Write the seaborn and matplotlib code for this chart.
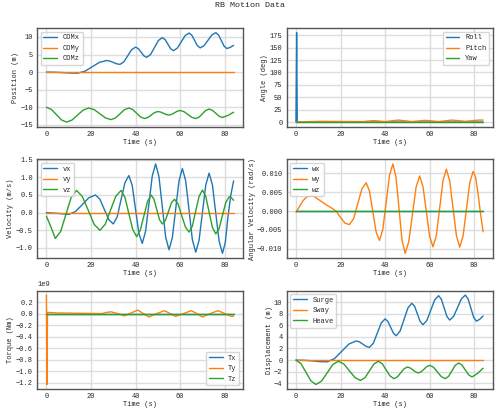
import numpy as np
import pandas as pd
import matplotlib
matplotlib.use("Agg")
import matplotlib.pyplot as plt
import seaborn as sns

# ---- data ----
surge_t = [0,3.5,7,10.5,14,17.25,20.5,23.75,27,28.5,30,31.5,33,34.75,36.5,38.25,40,41.25,42.5,43.75,45,
           46.75,48.5,50.25,52,53.25,54.5,55.75,57,58.75,60.5,62.25,64,65.25,66.5,67.75,69,70.75,72.5,74.25,
           76,77.25,78.5,79.75,81,82.5,84]
surge_v = [0,-0.03,-0.12,-0.25,-0.3,0.24,1.5,2.76,3.3,3.14,2.75,2.36,2.2,2.92,4.65,6.38,7.1,6.67,5.65,4.63,4.2,
           5.02,7.0,8.98,9.8,9.26,7.95,6.64,6.1,6.83,8.6,10.37,11.1,10.49,9.0,7.51,6.9,7.53,9.05,10.57,
           11.2,10.54,8.95,7.36,6.7,7.05,7.6]
heave_t = [0,2.25,4.5,6.75,9,11.5,14,16.5,19,21.5,24,26.5,29,31,33,35,37,38.75,40.5,42.25,44,45.5,47,48.5,50,
           51.25,52.5,53.75,55,56.25,57.5,58.75,60,61.75,63.5,65.25,67,68.5,70,71.5,73,74.5,76,77.5,79,81.5,84]
heave_v = [0,-0.61,-2.1,-3.59,-4.2,-3.62,-2.2,-0.78,-0.2,-0.68,-1.85,-3.02,-3.5,-3.02,-1.85,-0.68,-0.2,-0.65,-1.7,-2.75,-3.2,-2.9,-2.2,-1.5,-1.2,
           -1.35,-1.7,-2.05,-2.2,-2.0,-1.55,-1.1,-0.9,-1.24,-2.05,-2.86,-3.2,-2.8,-1.85,-0.9,-0.5,-0.86,-1.7,-2.54,-2.9,-2.3,-1.4]
comz_offset = -10
vx_t = [0,5,10,13,16,19,22,24,26,28,30,31.75,33.5,35.25,37,38.5,40,41.5,43,44.5,46,47.5,49,50.5,52,53.5,55,
        56.5,58,59.5,61,62.5,64,65.5,67,68.5,70,71.5,73,74.5,76,77.5,79,80.25,81.5,82.75,84]
vx_v = [0,-0.02,-0.05,0.03,0.22,0.42,0.5,0.38,0.09,-0.2,-0.32,-0.12,0.37,0.85,1.05,0.77,0.09,-0.59,-0.87,-0.53,0.25,1.04,1.38,1.02,0.17,-0.69,-1.05,
        -0.71,0.1,0.9,1.25,0.9,0.07,-0.77,-1.12,-0.78,0,0.78,1.12,0.78,-0.02,-0.81,-1.15,-0.85,-0.1,0.5,0.9]
vz_t = [0,2,4,6.4,8.75,11.1,13.5,16.1,18.75,21.4,24,26.4,28.75,31.1,33.5,35.25,37,38.75,40.5,42.1,43.75,45.4,47,
        48.25,49.5,50.75,52,53.4,54.75,56.1,57.5,59.1,60.75,62.4,64,65.5,67,68.5,70,71.5,73,74.5,76,77.5,79,80.5,82,83,84]
vz_v = [-0.1,-0.4,-0.73,-0.53,-0.05,0.43,0.63,0.46,0.07,-0.33,-0.5,-0.33,0.07,0.46,0.63,0.43,-0.03,-0.48,-0.68,-0.5,-0.09,0.32,0.5,
        0.38,0.09,-0.2,-0.32,-0.22,0.03,0.28,0.38,0.24,-0.09,-0.41,-0.55,-0.38,0.05,0.46,0.64,0.46,0.02,-0.42,-0.6,-0.45,-0.08,0.29,0.45,0.42,0.35]
wy_t = [0,1.6,3.25,4.9,6.5,8,10,12,14,16,18,20,22,24,25.9,27.75,29.6,31.5,33,34.5,36,37.5,39,40.5,42,43.5,44.9,46.25,47.6,
        49,50.6,52.25,53.9,55.5,57,58.5,60,61.5,63,64.5,66,67.5,69,70.5,72,73.5,75,76.5,78,79.5,80.6,81.75,82.9,84]
wy_v = [-0.0003,0.0012,0.0028,0.0038,0.004,0.0039,0.0031,0.0023,0.0015,0.0008,0.0,-0.0017,-0.0032,-0.0036,-0.002,0.00195,0.0059,0.0075,0.0053,-0.00015,-0.0056,-0.0078,-0.0048,0.00235,0.0095,0.0125,0.009,0.00065,-0.0077,
        -0.0112,-0.0082,-0.001,0.0063,0.0093,0.0065,-0.0001,-0.0067,-0.0095,-0.0065,0.0008,0.0081,0.0111,0.008,0.00075,-0.0065,-0.0096,-0.0066,0.00045,0.0075,0.0105,0.009,0.0045,-0.001,-0.0055]
ty_t = [0,0.2,0.5,5,25,27,29,32,35,38,41,43.5,46,49.5,53,55.5,58,61.5,65,67.5,70,73.5,77,80,83,84]
ty_v_1e9 = [0.32,-1.23,0.02,0.01,0,0.02,0.03,0,-0.04,0.01,0.06,0,-0.06,0,0.05,0,-0.05,0,0.05,0,-0.06,0,0.05,0,-0.05,-0.045]
roll_t = [0,0.3,0.6,84]
roll_v = [0,180,0,0]
pitch_t = [0,10,30,35,40,46,52,58,64,70,76,82,84]
pitch_v = [0,1.5,1,3,1,4,1,3.5,1,4,1.5,4,4]
zero_t = [0,84]
zero_v = [0,0]

sns.set_theme(style="whitegrid")
plt.rcParams['font.family'] = ['Liberation Mono', 'DejaVu Sans']
plt.rcParams.update({'font.size': 5, 'axes.edgecolor': '#555555', 'axes.linewidth': 1.0,
                     'grid.color': '#dddddd', 'xtick.labelsize': 5, 'ytick.labelsize': 5,
                     'axes.labelsize': 5, 'legend.fontsize': 5})
pal = sns.color_palette("tab10")

fig, axes = plt.subplots(3, 2, figsize=(5, 4.16), dpi=100)

def draw(ax, series, ylabel, loc):
    for i, (name, t, v) in enumerate(series):
        df = pd.DataFrame({'t': t, 'v': v})
        sns.lineplot(data=df, x='t', y='v', ax=ax, color=pal[i], label=name, lw=1)
    ax.set_xlabel('Time (s)', labelpad=1)
    ax.set_ylabel(ylabel, labelpad=1)
    ax.tick_params(pad=1, length=2)
    ax.legend(loc=loc, frameon=True)
    ax.set_xticks([0, 20, 40, 60, 80])

draw(axes[0,0], [('COMx', surge_t, surge_v), ('COMy', zero_t, zero_v),
                 ('COMz', heave_t, [h + comz_offset for h in heave_v])], 'Position (m)', 'upper left')
draw(axes[0,1], [('Roll', roll_t, roll_v), ('Pitch', pitch_t, pitch_v), ('Yaw', zero_t, zero_v)],
     'Angle (deg)', 'upper right')
draw(axes[1,0], [('vx', vx_t, vx_v), ('vy', zero_t, zero_v), ('vz', vz_t, vz_v)],
     'Velocity (m/s)', 'upper left')
draw(axes[1,1], [('wx', zero_t, zero_v), ('wy', wy_t, wy_v), ('wz', zero_t, zero_v)],
     'Angular Velocity (rad/s)', 'upper left')
draw(axes[2,0], [('Tx', zero_t, zero_v), ('Ty', ty_t, [v * 1e9 for v in ty_v_1e9]), ('Tz', zero_t, zero_v)],
     'Torque (Nm)', 'lower right')
draw(axes[2,1], [('Surge', surge_t, surge_v), ('Sway', zero_t, zero_v), ('Heave', heave_t, heave_v)],
     'Displacement (m)', 'upper left')
axes[0,0].set_yticks([-15, -10, -5, 0, 5, 10])
axes[0,1].set_yticks(range(0, 176, 25))
axes[1,1].set_yticks([-0.010, -0.005, 0.0, 0.005, 0.010])
axes[2,0].set_yticks(np.arange(-1.2e9, 0.21e9, 0.2e9))
axes[2,1].set_yticks(range(-4, 11, 2))

fig.suptitle('RB Motion Data', fontsize=6, y=0.995)
fig.tight_layout(rect=[0, 0, 1, 0.985], h_pad=0.6, w_pad=0.8)
fig.savefig('out.png')
